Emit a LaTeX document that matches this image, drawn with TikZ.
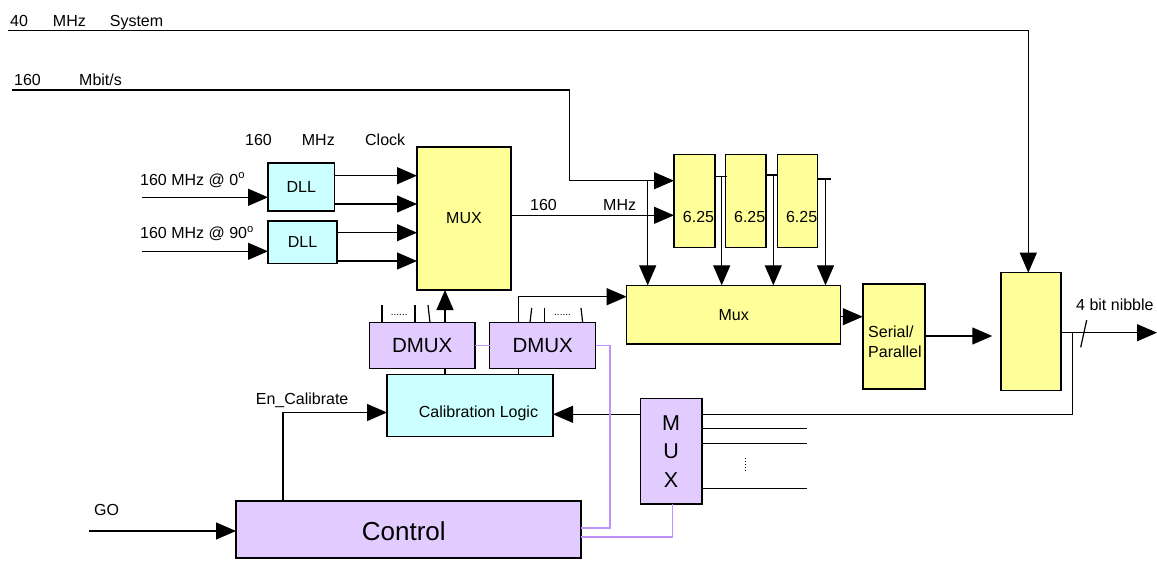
\documentclass[tikz,border=0pt]{standalone}
\usepackage{fontspec}
\setmainfont{Liberation Sans}
\usetikzlibrary{arrows.meta}

\definecolor{ylw}{HTML}{FFFF99}
\definecolor{cyn}{HTML}{CCFFFF}
\definecolor{lav}{HTML}{E2CCFF}
\definecolor{prp}{HTML}{C090FF}

\tikzset{
  blk/.style={draw, line width=1.5pt, inner sep=0pt, outer sep=0pt},
  yblk/.style={blk, fill=ylw},
  cblk/.style={blk, fill=cyn},
  pblk/.style={blk, fill=lav},
  wire/.style={line width=1.2pt},
  sig/.style={wire, -{Triangle[length=20pt,width=17pt]}},
  pwire/.style={line width=1.9pt, draw=prp},
  lbl/.style={inner sep=0pt, anchor=base west},
  elide/.style={inner sep=0pt, anchor=base west, font=\fontsize{10}{12}\selectfont},
}

\begin{document}
\begin{tikzpicture}[x=1pt, y=-1pt, font=\fontsize{16}{19}\selectfont]
\useasboundingbox (0,0) rectangle (1157,560);

% clock path
\node[cblk, minimum width=66.5, minimum height=48] (dllA) at (301.3,187) {DLL};
\node[cblk, minimum width=69, minimum height=42.5] (dllB) at (302.5,242.3) {DLL};
\node[yblk, minimum width=94, minimum height=143] (mux) at (464,218.5) {MUX};

% 6.25 dividers
\foreach \n/\x/\w in {rateA/694.5/41, rateB/745.7/40.7, rateC/797.6/40.2}{
  \node[yblk, minimum width=\w, minimum height=93] (\n) at (\x,201) {};
  \node at ([xshift=4pt,yshift=-15.5pt]\n.center) {6.25};
}

\node[yblk, minimum width=214, minimum height=58.7] (mxout) at (733.7,314.7) {Mux};
\node[yblk, minimum width=62.3, minimum height=105] (serpar) at (893.9,336.5) {};
\node[align=left, anchor=west, inner sep=0pt, font=\fontsize{16}{20}\selectfont] at (868,341.7) {Serial/\\Parallel};
\node[yblk, minimum width=60.3, minimum height=118] (outreg) at (1030.9,331.7) {};

% calibration and control
\node[pblk, minimum width=105.7, minimum height=45.6, font=\fontsize{20.5}{24}\selectfont] (dmuxA) at (422.2,345.5) {DMUX};
\node[pblk, minimum width=106, minimum height=45.6, font=\fontsize{20.5}{24}\selectfont] (dmuxB) at (542.7,345.5) {DMUX};
\node[cblk, minimum width=166, minimum height=62.2] (calib) at (470,405.4) {};
\node at (478.5,413) {Calibration Logic};
\node[pblk, minimum width=61.4, minimum height=105.7, align=center, font=\fontsize{21.5}{28.5}\selectfont] (selmux) at (671.1,451.2) {M\\U\\X};
\node[pblk, minimum width=345, minimum height=57, font=\fontsize{26}{30}\selectfont] (ctrl) at (408.5,529.5) {};
\node[font=\fontsize{26}{30}\selectfont] at (403.8,531.5) {Control};

% labels
\node[lbl] at (10,26) {40\hspace{25pt}MHz\hspace{24pt}System};
\node[lbl] at (14,85) {160\hspace{38.3pt}Mbit/s};
\node[lbl] at (245,145) {160\hspace{30pt}MHz\hspace{30.4pt}Clock};
\node[lbl] at (140,185) {160 MHz @ 0\textsuperscript{o}};
\node[lbl] at (140,238.3) {160 MHz @ 90\textsuperscript{o}};
\node[lbl] at (530,210) {160\hspace{46.3pt}MHz};
\node[lbl] at (1076,310) {4 bit nibble};
\node[lbl] at (94,515) {GO};
\node[lbl] at (255.7,404) {En\_Calibrate};

% free ends
\coordinate (sysin) at (8,30.7);
\coordinate (bitin) at (12,90);
\coordinate (inA) at (142,197.3);
\coordinate (inB) at (142,251.3);
\coordinate (goin) at (88.6,531);
\coordinate (nibble) at (1157,332.7);

% system clock and data in
\draw[sig] (sysin) -| (outreg.north -| 1028.3,0);
\draw[sig] (bitin) -| (569.3,180.7) -- (rateA.west |- 0,180.7);
\draw[sig] (647.7,180.7) -- (mxout.north -| 647.7,0);

% DLLs into MUX
\draw[sig] (inA) -- (dllA.west |- inA);
\draw[sig] (inB) -- (dllB.west |- inB);
\foreach \y in {175.7,204} \draw[sig] (dllA.east |- 0,\y) -- (mux.west |- 0,\y);
\foreach \y in {232.7,261} \draw[sig] (dllB.east |- 0,\y) -- (mux.west |- 0,\y);
\draw[sig] (mux.east |- 0,215.3) -- (rateA.west |- 0,215.3);

% divider outputs
\draw[wire] (rateA.east |- 0,176.7) -- (727.3,176.7);
\draw[sig] (721.7,176.7) -- (mxout.north -| 721.7,0);
\draw[wire] (rateB.east |- 0,175) -- (rateC.west |- 0,175);
\draw[sig] (773.3,175) -- (mxout.north -| 773.3,0);
\draw[wire] (rateC.east |- 0,179) -- (830.7,179);
\draw[sig] (825.5,179) -- (mxout.north -| 825.5,0);

% output chain
\draw[sig] (mxout.east |- 0,316.7) -- (serpar.west |- 0,316.7);
\draw[sig] (serpar.east |- 0,336) -- (992.3,336);
\draw[sig] (outreg.east |- nibble) -- (nibble);
\draw[wire] (1080.7,347.3) -- (1086.7,320);

% feedback through selector
\draw[wire] (1072.3,332.7) |- (selmux.east |- 0,414.3);
\draw[sig] (selmux.west |- 0,414.3) -- (calib.east |- 0,414.3);
\foreach \y in {428.3,443.3,488.7} \draw[wire] (selmux.east |- 0,\y) -- (807,\y);
\draw[wire, dash pattern=on 1pt off 2pt] (745.7,458) -- (745.7,472);

% DMUX
\draw[sig] (dmuxA.north -| 445,0) -- (mux.south -| 445,0);
\draw[sig] (dmuxB.north -| 518.7,0) |- (mxout.west |- 0,296.7);
\draw[wire] (dmuxA.south -| 445,0) -- (calib.north -| 445,0);
\draw[wire] (dmuxB.south -| 518.7,0) -- (calib.north -| 518.7,0);
\foreach \a/\b in {382/382, 415/415, 428/430} \draw[wire] (\a,305) -- (dmuxA.north -| \b,0);
\node[elide] at (390.7,315) {......};
\foreach \a/\b in {531.7/530, 544.3/544.3, 581/582.7} \draw[wire] (\a,308) -- (dmuxB.north -| \b,0);
\node[elide] at (554,315) {......};

% control
\draw[sig] (ctrl.north -| 283,0) |- (calib.west |- 0,412.5);
\draw[sig] (goin) -- (ctrl.west |- goin);

% purple control wires
\draw[pwire] (dmuxA.east) -- (dmuxB.west);
\draw[pwire] (dmuxB.east) -| (610,528) -- (ctrl.east |- 0,528);
\draw[pwire] (selmux.south -| 672.5,0) |- (ctrl.east |- 0,536.7);
\end{tikzpicture}
\end{document}
